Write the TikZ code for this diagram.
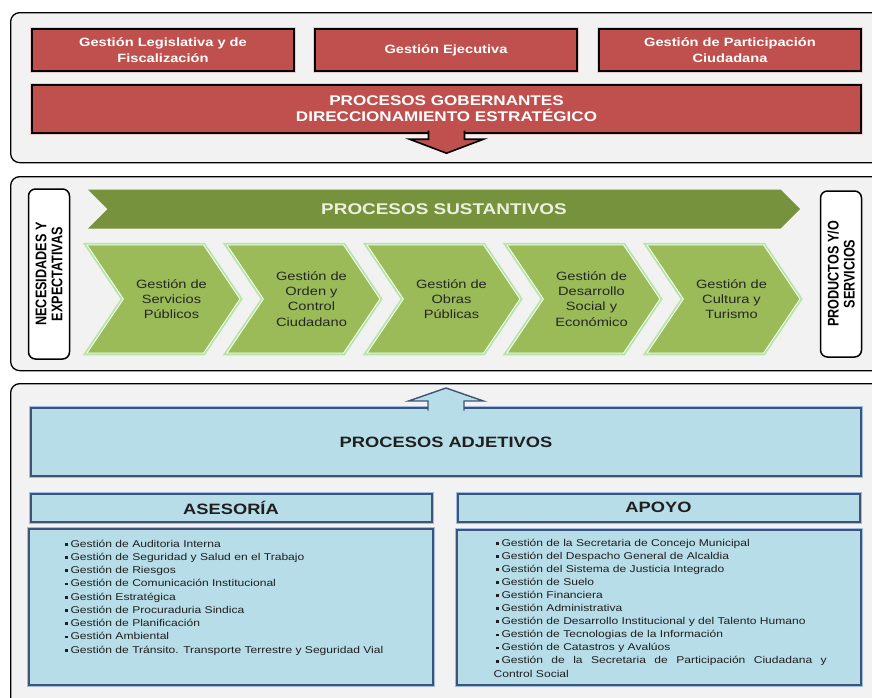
\documentclass[tikz,border=0pt]{standalone}
\usepackage{fontspec}
\setmainfont{Liberation Sans}[FakeStretch=1.22]
\newfontfamily\sidefont{Liberation Sans}[FakeStretch=0.82]
\usetikzlibrary{shapes.symbols,calc}

\definecolor{panelgray}{HTML}{F2F2F2}
\definecolor{govred}{HTML}{C0504D}
\definecolor{olive}{HTML}{76923C}
\definecolor{chevgreen}{HTML}{9BBB59}
\definecolor{glowgreen}{HTML}{B4E6A8}
\definecolor{bannertext}{HTML}{EBF1DE}
\definecolor{adjblue}{HTML}{B7DDE8}
\definecolor{blueedge}{HTML}{3F5474}
\definecolor{blueglow}{HTML}{9DBCE6}

\newcommand{\bul}{\rule[0.25ex]{2.8pt}{2.8pt}\hspace{3pt}}

\begin{document}
\begin{tikzpicture}[
  x=1pt, y=-1pt,
  panel/.style={
    draw=black,
    line width=1.3pt,
    fill=panelgray,
    rounded corners=9pt,
    anchor=north west,
    minimum width=890pt,
    inner sep=0pt
  },
  govbox/.style={
    draw=black,
    line width=2.4pt,
    fill=govred,
    preaction={draw=govred!30, line width=4.5pt},
    text=white,
    font=\bfseries\fontsize{12}{15.5}\selectfont,
    align=center,
    minimum width=262pt,
    minimum height=42pt,
    inner sep=0pt
  },
  sidebox/.style={
    draw=black,
    line width=1.5pt,
    fill=white,
    rounded corners=7pt,
    rotate=90,
    align=center,
    font=\sidefont\bfseries\fontsize{15.4}{16}\selectfont,
    minimum width=170pt,
    minimum height=41pt,
    inner sep=0pt
  },
  banner/.style={
    shape=signal,
    signal from=west,
    signal to=east,
    signal pointer angle=90,
    fill=olive,
    minimum width=712pt,
    minimum height=39pt,
    inner sep=0pt,
    text=bannertext,
    font=\bfseries\fontsize{15.5}{16}\selectfont
  },
  chevron/.style={
    shape=signal,
    signal from=west,
    signal to=east,
    signal pointer angle=112,
    fill=chevgreen,
    draw=white,
    line width=0.8pt,
    preaction={draw=glowgreen, line width=4.5pt},
    minimum width=153pt,
    minimum height=108pt,
    inner sep=0pt
  },
  chevtext/.style={align=center, inner sep=0pt, font=\fontsize{12}{15.2}\selectfont, text=black!85},
  bluebox/.style={
    draw=blueedge,
    line width=2pt,
    fill=adjblue,
    preaction={draw=blueglow, line width=4pt},
    inner sep=0pt,
    text=black!88
  },
  listtext/.style={anchor=north west, align=left, inner sep=0pt, font=\fontsize{9.9}{13.25}\selectfont, text=black!88}
]
\useasboundingbox (0,0) rectangle (872,697);
\clip (0,0) rectangle (872,697);

% Panels
\node[panel, minimum height=150pt] (govpanel) at (10,12) {};
\node[panel, minimum height=194pt] (sustpanel) at (10,176) {};
\node[panel, minimum height=340pt] (adjpanel) at (10,383) {};

% Procesos gobernantes
\node[govbox] (legis) at (163,50) {Gestión Legislativa y de\\Fiscalización};
\node[govbox] (ejec) at (446,50) {Gestión Ejecutiva};
\node[govbox] (partic) at (730,50) {Gestión de Participación\\Ciudadana};
\node[govbox, minimum width=829pt, minimum height=48pt, font=\bfseries\fontsize{14}{16}\selectfont] (gob) at (446.5,109) {PROCESOS GOBERNANTES\\DIRECCIONAMIENTO ESTRATÉGICO};

\filldraw[fill=govred, draw=black, line width=1.6pt]
  ($(gob.south)+(-18,-3.5)$) -- ($(gob.south)+(-18,5)$) -- ($(gob.south)+(-37,5)$)
  -- ($(gob.south)+(0,19)$) -- ($(gob.south)+(37,5)$) -- ($(gob.south)+(18,5)$)
  -- ($(gob.south)+(18,-3.5)$);

% Procesos sustantivos
\node[sidebox] (necesid) at (49,274) {NECESIDADES Y\\EXPECTATIVAS};
\node[sidebox, minimum width=166pt] (productos) at (841,274) {PRODUCTOS Y/O\\SERVICIOS};

\node[banner] (sust) at (444,209) {PROCESOS SUSTANTIVOS};

\foreach \i/\txt in {1/{Gestión de\\Servicios\\Públicos},
                     2/{Gestión de\\Orden y\\Control\\Ciudadano},
                     3/{Gestión de\\Obras\\Públicas},
                     4/{Gestión de\\Desarrollo\\Social y\\Económico},
                     5/{Gestión de\\Cultura y\\Turismo}} {
  \node[chevron] (proc\i) at ({163.5+140*(\i-1)},299) {};
  \node[chevtext] (proctxt\i) at ($(proc\i.center)+(8,0)$) {\txt};
}

% Procesos adjetivos
\node[bluebox, minimum width=830pt, minimum height=68pt, font=\bfseries\fontsize{15}{16}\selectfont] (adj) at (446,442) {PROCESOS ADJETIVOS};

\filldraw[fill=adjblue, draw=blueedge, line width=1.4pt]
  ($(adj.north)+(-18,3.5)$) -- ($(adj.north)+(-18,-6)$) -- ($(adj.north)+(-37.5,-6)$)
  -- ($(adj.north)+(0,-19)$) -- ($(adj.north)+(37.5,-6)$) -- ($(adj.north)+(18,-6)$)
  -- ($(adj.north)+(18,3.5)$);

\node[bluebox, minimum width=401pt, minimum height=28pt, font=\bfseries\fontsize{15}{16}\selectfont] (asesoria) at (231,507.5) {ASESORÍA};
\node[bluebox, minimum width=402pt, minimum height=28pt, font=\bfseries\fontsize{15}{16}\selectfont] (apoyo) at (658.5,507.5) {APOYO};

\node[bluebox, minimum width=404pt, minimum height=156pt] (aselist) at (230.5,606.5) {};
\node[bluebox, minimum width=404pt, minimum height=155pt] (apoyolist) at (658.5,607) {};

\node[listtext] (asetxt) at ($(aselist.north west)+(37,12)$) {%
  \bul Gestión de Auditoria Interna\\
  \bul Gestión de Seguridad y Salud en el Trabajo\\
  \bul Gestión de Riesgos\\
  \bul Gestión de Comunicación Institucional\\
  \bul Gestión Estratégica\\
  \bul Gestión de Procuraduria Sindica\\
  \bul Gestión de Planificación\\
  \bul Gestión Ambiental\\
  \bul Gestión de Tránsito. Transporte Terrestre y Seguridad Vial};

\node[listtext, font=\fontsize{9.9}{13.1}\selectfont] (apoyotxt) at ($(apoyolist.north west)+(40,10)$) {%
  \bul Gestión de la Secretaria de Concejo Municipal\\
  \bul Gestión del Despacho General de Alcaldia\\
  \bul Gestión del Sistema de Justicia Integrado\\
  \bul Gestión de Suelo\\
  \bul Gestión Financiera\\
  \bul Gestión Administrativa\\
  \bul Gestión de Desarrollo Institucional y del Talento Humano\\
  \bul Gestión de Tecnologias de la Información\\
  \bul Gestión de Catastros y Avalúos\\
  \makebox[331pt][s]{\bul Gestión de la Secretaria de Participación Ciudadana y}\\
  \hspace*{-2pt}Control Social};

\end{tikzpicture}
\end{document}
